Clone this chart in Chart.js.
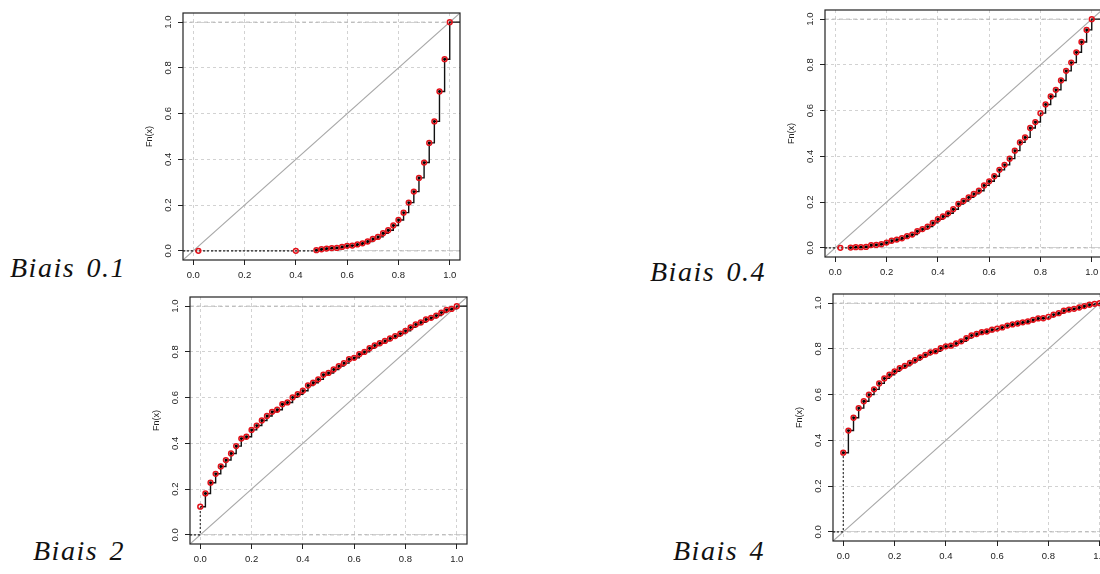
<!DOCTYPE html>
<html>
<head>
<meta charset="utf-8">
<script src="https://cdn.jsdelivr.net/npm/chart.js@4.4.1/dist/chart.umd.min.js"></script>
<style>
  html, body { margin: 0; padding: 0; background: #fff; }
  body { width: 1100px; height: 574px; overflow: hidden; position: relative; }
  canvas { position: absolute; }
  .lbl {
    position: absolute;
    font-family: "Liberation Serif", serif;
    font-style: italic;
    font-size: 28px;
    line-height: 28px;
    letter-spacing: 1.5px;
    word-spacing: 3px;
    color: #111;
    white-space: nowrap;
  }
</style>
</head>
<body>
<div class="lbl" id="t0" style="left:10px; top:254px;"></div>
<div class="lbl" id="t1" style="left:650px; top:258px;"></div>
<div class="lbl" id="t2" style="left:33px; top:537px;"></div>
<div class="lbl" id="t3" style="left:673px; top:537px;"></div>
<script>
// axis setup shared by the four ECDF panels
const tickValues = [0, 0.2, 0.4, 0.6, 0.8, 1.0];
const tickLabels = ['0.0', '0.2', '0.4', '0.6', '0.8', '1.0'];
const axisMin = -0.04;
const axisMax = 1.04;
const yTitle = 'Fn(x)';
const panelTitles = ['Biais 0.1', 'Biais 0.4', 'Biais 2', 'Biais 4'];

// Biais 0.1
const x01 = [0.02, 0.40, 0.48, 0.50, 0.52, 0.54, 0.56, 0.58, 0.60, 0.62, 0.64, 0.66, 0.68, 0.70,
  0.72, 0.74, 0.76, 0.78, 0.80, 0.82, 0.84, 0.86, 0.88, 0.90, 0.92, 0.94, 0.96, 0.98, 1.00];
const fn01 = [0.000, 0.000, 0.003, 0.007, 0.010, 0.012, 0.013, 0.017, 0.022, 0.023, 0.028, 0.033,
  0.041, 0.052, 0.061, 0.077, 0.090, 0.111, 0.135, 0.167, 0.211, 0.259, 0.319, 0.386, 0.472,
  0.566, 0.697, 0.838, 1.000];
const noDot01 = [0.02, 0.40, 1.00];

// Biais 0.4
const x04 = [0.02, 0.06, 0.08, 0.10, 0.12, 0.14, 0.16, 0.18, 0.20, 0.22, 0.24, 0.26, 0.28, 0.30,
  0.32, 0.34, 0.36, 0.38, 0.40, 0.42, 0.44, 0.46, 0.48, 0.50, 0.52, 0.54, 0.56, 0.58, 0.60, 0.62,
  0.64, 0.66, 0.68, 0.70, 0.72, 0.74, 0.76, 0.78, 0.80, 0.82, 0.84, 0.86, 0.88, 0.90, 0.92, 0.94,
  0.96, 0.98, 1.00];
const fn04 = [0.000, 0.001, 0.003, 0.003, 0.004, 0.012, 0.013, 0.016, 0.023, 0.031, 0.036, 0.042,
  0.051, 0.058, 0.073, 0.082, 0.093, 0.109, 0.125, 0.137, 0.151, 0.169, 0.192, 0.205, 0.221,
  0.236, 0.250, 0.273, 0.291, 0.313, 0.341, 0.363, 0.390, 0.425, 0.461, 0.483, 0.524, 0.550,
  0.589, 0.627, 0.662, 0.691, 0.732, 0.774, 0.810, 0.855, 0.900, 0.953, 1.000];
const noDot04 = [0.02, 0.80, 1.00];

// Biais 2 and Biais 4 share the full 0.02 grid
const xFull = [0.00, 0.02, 0.04, 0.06, 0.08, 0.10, 0.12, 0.14, 0.16, 0.18, 0.20, 0.22, 0.24, 0.26,
  0.28, 0.30, 0.32, 0.34, 0.36, 0.38, 0.40, 0.42, 0.44, 0.46, 0.48, 0.50, 0.52, 0.54, 0.56, 0.58,
  0.60, 0.62, 0.64, 0.66, 0.68, 0.70, 0.72, 0.74, 0.76, 0.78, 0.80, 0.82, 0.84, 0.86, 0.88, 0.90,
  0.92, 0.94, 0.96, 0.98, 1.00];
const fn2 = [0.123, 0.181, 0.228, 0.267, 0.299, 0.327, 0.356, 0.388, 0.421, 0.429, 0.459, 0.478,
  0.500, 0.520, 0.538, 0.547, 0.571, 0.579, 0.601, 0.615, 0.630, 0.653, 0.665, 0.680, 0.700,
  0.708, 0.723, 0.738, 0.751, 0.768, 0.774, 0.790, 0.800, 0.816, 0.828, 0.838, 0.848, 0.859,
  0.869, 0.880, 0.892, 0.907, 0.920, 0.929, 0.942, 0.949, 0.959, 0.972, 0.984, 0.988, 1.000];
const noDot2 = [0.00, 1.00];

const fn4 = [0.346, 0.443, 0.499, 0.541, 0.571, 0.600, 0.623, 0.649, 0.671, 0.687, 0.702, 0.716,
  0.726, 0.739, 0.751, 0.763, 0.774, 0.785, 0.790, 0.803, 0.811, 0.814, 0.824, 0.833, 0.847,
  0.859, 0.865, 0.873, 0.876, 0.884, 0.889, 0.894, 0.902, 0.907, 0.911, 0.916, 0.920, 0.927,
  0.933, 0.934, 0.940, 0.950, 0.956, 0.967, 0.972, 0.975, 0.981, 0.987, 0.993, 0.997, 1.000];
const noDot4 = [0.60, 0.80, 0.98, 1.00];

// where each plot box sits on the page
const panels = [
  { box: { x: 183, y: 13, w: 277, h: 247 }, xs: x01, ys: fn01, noDot: noDot01 },
  { box: { x: 825, y: 10, w: 277, h: 247 }, xs: x04, ys: fn04, noDot: noDot04 },
  { box: { x: 190, y: 297, w: 277, h: 247 }, xs: xFull, ys: fn2, noDot: noDot2 },
  { box: { x: 833, y: 294, w: 277, h: 247 }, xs: xFull, ys: fn4, noDot: noDot4 }
];

const PAD_L = 50, PAD_T = 6, PAD_R = 6, PAD_B = 26;
const tickFont = { family: 'Liberation Sans', size: 9.5 };

// R-style frame plus rotated y tick labels
const framePlugin = {
  id: 'frame',
  afterDraw(chart) {
    const { ctx, chartArea: a, scales: { y } } = chart;
    ctx.save();
    ctx.strokeStyle = '#222';
    ctx.lineWidth = 1.2;
    ctx.strokeRect(a.left, a.top, a.right - a.left, a.bottom - a.top);
    ctx.fillStyle = '#222';
    ctx.font = '9.5px "Liberation Sans"';
    ctx.textAlign = 'center';
    ctx.textBaseline = 'middle';
    tickValues.forEach((v, i) => {
      ctx.save();
      ctx.translate(a.left - 14.5, y.getPixelForValue(v));
      ctx.rotate(-Math.PI / 2);
      ctx.fillText(tickLabels[i], 0, 0);
      ctx.restore();
    });
    ctx.restore();
  }
};

function makePanel(p) {
  const { box, xs, ys, noDot } = p;
  const w = box.w + PAD_L + PAD_R;
  const h = box.h + PAD_T + PAD_B;
  const cv = document.createElement('canvas');
  cv.width = w;
  cv.height = h;
  cv.style.left = (box.x - PAD_L) + 'px';
  cv.style.top = (box.y - PAD_T) + 'px';
  cv.style.width = w + 'px';
  cv.style.height = h + 'px';
  document.body.appendChild(cv);

  const pts = xs.map((x, i) => ({ x: x, y: ys[i] }));
  const first = ys.findIndex(v => v > 0);
  const last = ys[ys.length - 1];
  const lead = [{ x: axisMin, y: 0 }, { x: xs[first], y: 0 }, { x: xs[first], y: ys[first] }];
  const step = pts.slice(first).concat([{ x: axisMax, y: last }]);
  const dots = pts.filter(pt => !noDot.includes(pt.x));

  new Chart(cv.getContext('2d'), {
    type: 'line',
    data: {
      datasets: [
        { data: dots, showLine: false, pointRadius: 1.4, pointBackgroundColor: '#000',
          pointBorderWidth: 0, order: 0 },
        { data: pts, showLine: false, pointRadius: 2.4, pointBorderColor: '#e3121a',
          pointBackgroundColor: 'rgba(0,0,0,0)', pointBorderWidth: 1.5, order: 1 },
        { data: step, stepped: true, borderColor: '#111', borderWidth: 1.4, pointRadius: 0, order: 2 },
        { data: lead, borderColor: '#222', borderWidth: 1.1, borderDash: [2, 2], pointRadius: 0, order: 3 },
        { data: [{ x: axisMin, y: axisMin }, { x: axisMax, y: axisMax }], borderColor: '#a8a8a8',
          borderWidth: 1.1, pointRadius: 0, order: 4 },
        { data: [{ x: axisMin, y: 0 }, { x: axisMax, y: 0 }], borderColor: '#b3b3b3',
          borderWidth: 1, borderDash: [4, 3], pointRadius: 0, order: 5 },
        { data: [{ x: axisMin, y: 1 }, { x: axisMax, y: 1 }], borderColor: '#b3b3b3',
          borderWidth: 1, borderDash: [4, 3], pointRadius: 0, order: 5 }
      ]
    },
    options: {
      responsive: false,
      animation: false,
      events: [],
      layout: { padding: { top: PAD_T, right: PAD_R, left: 0, bottom: 0 } },
      plugins: { legend: { display: false }, tooltip: { enabled: false } },
      scales: {
        x: {
          type: 'linear',
          min: axisMin,
          max: axisMax,
          afterBuildTicks: s => { s.ticks = tickValues.map(v => ({ value: v })); },
          afterFit: s => { s.height = PAD_B; },
          ticks: {
            callback: (v, i) => tickLabels[i],
            font: tickFont, color: '#222', padding: 5, maxRotation: 0, autoSkip: false
          },
          grid: { color: '#d2d2d2', lineWidth: 1, tickLength: 5, tickColor: '#222', tickWidth: 1 },
          border: { display: false, dash: [3, 3] }
        },
        y: {
          type: 'linear',
          min: axisMin,
          max: axisMax,
          afterBuildTicks: s => { s.ticks = tickValues.map(v => ({ value: v })); },
          afterFit: s => { s.width = PAD_L; },
          ticks: { display: false },
          title: {
            display: true, text: yTitle, color: '#222',
            font: { family: 'Liberation Sans', size: 9 }, padding: { top: 11.6, bottom: 0 }
          },
          grid: { color: '#d2d2d2', lineWidth: 1, tickLength: 5, tickColor: '#222', tickWidth: 1 },
          border: { display: false, dash: [3, 3] }
        }
      }
    },
    plugins: [framePlugin]
  });
}

panels.forEach(makePanel);
panelTitles.forEach((t, i) => { document.getElementById('t' + i).textContent = t; });
</script>
</body>
</html>
